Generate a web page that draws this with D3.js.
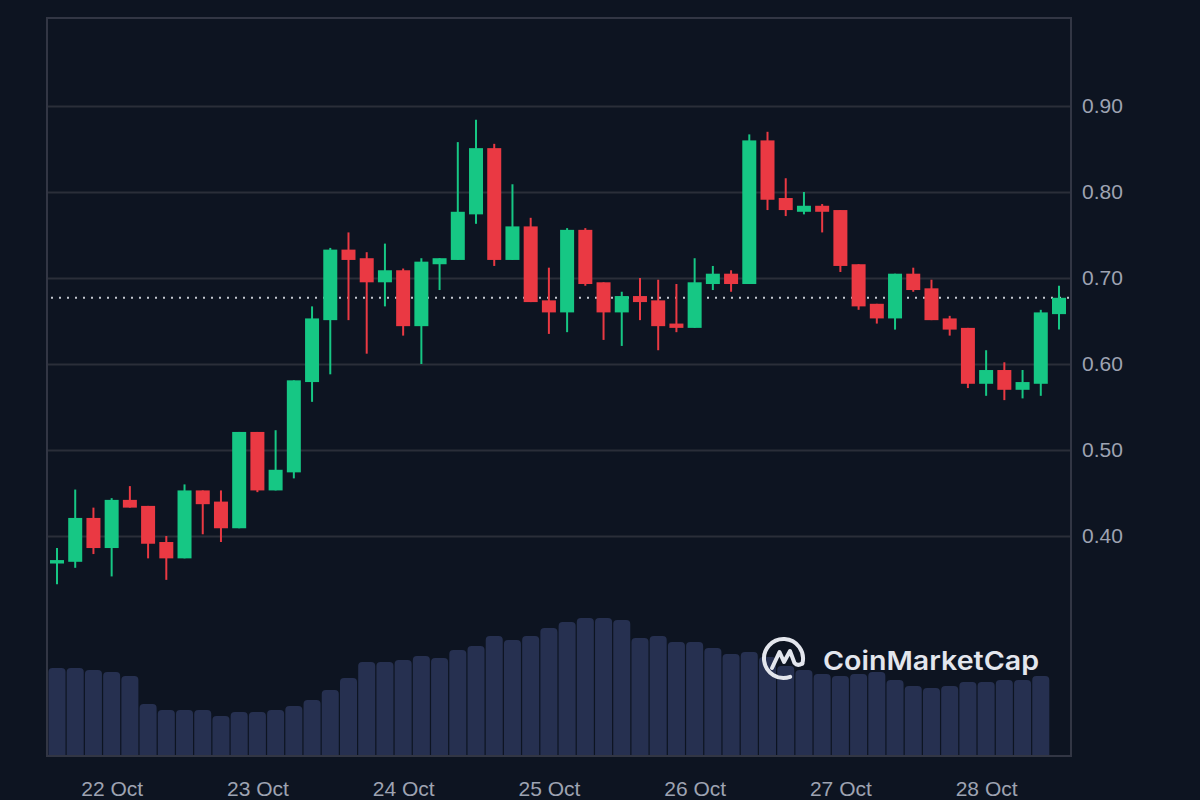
<!DOCTYPE html>
<html><head><meta charset="utf-8">
<script src="https://cdn.jsdelivr.net/npm/d3@7"></script>
<style>html,body{margin:0;padding:0;background:#0d1421;} svg{display:block}</style>
</head><body><svg id="c" width="1200" height="800"></svg>
<script>
// ---- data (3-hour candles, starting 21 Oct 15:00 UTC) ----
const startTime = "2023-10-21T15:00:00Z";
const stepHours = 3;
const opens  = [0.368,0.370,0.421,0.386,0.442,0.435,0.393,0.374,0.453,0.440,0.409,0.521,0.453,0.474,0.579,0.651,0.733,0.723,0.695,0.709,0.644,0.716,0.721,0.774,0.851,0.721,0.760,0.674,0.660,0.756,0.695,0.660,0.679,0.674,0.647,0.642,0.693,0.705,0.693,0.860,0.793,0.777,0.784,0.779,0.716,0.670,0.653,0.705,0.688,0.653,0.642,0.577,0.593,0.570,0.577,0.658];
const highs  = [0.386,0.454,0.433,0.444,0.458,0.435,0.400,0.460,0.453,0.453,0.521,0.521,0.523,0.581,0.667,0.735,0.753,0.730,0.740,0.711,0.723,0.723,0.858,0.884,0.856,0.809,0.770,0.712,0.758,0.758,0.695,0.684,0.700,0.698,0.693,0.723,0.714,0.709,0.867,0.870,0.816,0.800,0.786,0.779,0.716,0.670,0.705,0.712,0.698,0.656,0.642,0.616,0.602,0.593,0.663,0.691];
const lows   = [0.344,0.363,0.379,0.353,0.433,0.374,0.349,0.374,0.402,0.393,0.409,0.451,0.453,0.467,0.556,0.588,0.651,0.612,0.667,0.633,0.600,0.686,0.721,0.763,0.714,0.721,0.672,0.635,0.637,0.691,0.628,0.621,0.651,0.616,0.637,0.642,0.686,0.684,0.693,0.779,0.772,0.774,0.753,0.707,0.663,0.647,0.640,0.684,0.651,0.633,0.572,0.563,0.558,0.560,0.563,0.640];
const closes = [0.372,0.421,0.386,0.442,0.433,0.391,0.374,0.453,0.437,0.409,0.521,0.453,0.477,0.581,0.653,0.733,0.721,0.695,0.709,0.644,0.719,0.723,0.777,0.851,0.721,0.760,0.672,0.660,0.756,0.693,0.660,0.679,0.672,0.644,0.642,0.695,0.705,0.693,0.860,0.791,0.779,0.784,0.777,0.714,0.667,0.653,0.705,0.686,0.651,0.640,0.577,0.593,0.570,0.579,0.660,0.677];
const volumes = [8.8,8.8,8.6,8.4,8.0,5.2,4.6,4.6,4.6,4.0,4.4,4.4,4.6,5.0,5.6,6.6,7.8,9.4,9.4,9.6,10.0,9.8,10.6,11.0,12.0,11.6,12.0,12.8,13.4,13.8,13.8,13.6,11.8,12.0,11.4,11.4,10.8,10.2,10.4,9.9,9.0,8.6,8.2,8.0,8.2,8.4,7.6,7.0,6.8,7.0,7.4,7.4,7.6,7.6,8.0];
const priceTicks = [0.40,0.50,0.60,0.70,0.80,0.90];
const dateTicks = ["2023-10-22","2023-10-23","2023-10-24","2023-10-25","2023-10-26","2023-10-27","2023-10-28"];
const lastPrice = 0.677;

// ---- layout ----
const P = {left:47, right:1071, top:18, bottom:756};
const GREEN = "#16c784", RED = "#ea3943";
const svg = d3.select("#c");
svg.append("rect").attr("width",1200).attr("height",800).attr("fill","#0d1421");

const t0 = new Date(startTime);
const times = opens.map((_,i)=> new Date(t0.getTime() + i*stepHours*3600e3));
const x = d3.scaleUtc().domain([times[0], times[times.length-1]]).range([57, 1059]);
const y = d3.scaleLinear().domain([0.40, 0.90]).range([536, 106]);
const yv = d3.scaleLinear().domain([0, 14]).range([P.bottom, P.bottom-140]);
const step = x(times[1]) - x(times[0]);

// grid
svg.append("g").selectAll("line").data(priceTicks).join("line")
  .attr("x1",P.left).attr("x2",P.right)
  .attr("y1",d=>Math.round(y(d))+0.5).attr("y2",d=>Math.round(y(d))+0.5)
  .attr("stroke","#2a2e39").attr("stroke-width",2);

// volume bars
const vw = step - 1.2, r = 4;
svg.append("g").selectAll("path").data(volumes).join("path")
  .attr("fill","#263050")
  .attr("d",(v,i)=>{
    const cx = x(times[i]), x0 = cx - vw/2, x1 = cx + vw/2, yt = yv(v), yb = yv(0);
    return `M${x0},${yb}V${yt+r}Q${x0},${yt} ${x0+r},${yt}H${x1-r}Q${x1},${yt} ${x1},${yt+r}V${yb}Z`;
  });

// logo (watermark)
const logo = svg.append("g").attr("transform","translate(783.5,658.5)");
const deg = Math.PI/180;
const arcP = d3.path(); arcP.arc(0,0,19.5,70*deg,375*deg,false);
logo.append("path").attr("d",arcP.toString()).attr("fill","none").attr("stroke","#e3e6ed").attr("stroke-width",4).attr("stroke-linecap","round");
logo.append("path").attr("d","M-11.5,9.5 L-4,-6.5 L0.5,3.5 L6.5,-7.5 L11,4.5 Q14,8 18.8,5")
  .attr("fill","none").attr("stroke","#e3e6ed").attr("stroke-width",4).attr("stroke-linejoin","round").attr("stroke-linecap","round");
svg.append("text").attr("x",823).attr("y",670).attr("fill","#e3e6ed")
  .attr("font-family","Inter, 'Noto Sans', sans-serif").attr("font-weight",600).attr("font-size",26)
  .attr("textLength",216).attr("lengthAdjust","spacingAndGlyphs").text("CoinMarketCap");

// current price dotted line
svg.append("line").attr("x1",P.left+4).attr("x2",P.right)
  .attr("y1",y(lastPrice)).attr("y2",y(lastPrice))
  .attr("stroke","#c3c7d0").attr("stroke-width",2).attr("stroke-dasharray","2,6");

// candles
const cw = 14;
const cg = svg.append("g").selectAll("g").data(opens).join("g");
cg.append("line")
  .attr("x1",(d,i)=>x(times[i])).attr("x2",(d,i)=>x(times[i]))
  .attr("y1",(d,i)=>y(highs[i])).attr("y2",(d,i)=>y(lows[i]))
  .attr("stroke",(d,i)=>closes[i]>=opens[i]?GREEN:RED).attr("stroke-width",2);
cg.append("rect")
  .attr("x",(d,i)=>x(times[i])-cw/2).attr("width",cw)
  .attr("y",(d,i)=>y(Math.max(opens[i],closes[i])))
  .attr("height",(d,i)=>Math.max(2, Math.abs(y(opens[i])-y(closes[i]))))
  .attr("fill",(d,i)=>closes[i]>=opens[i]?GREEN:RED);

// border
svg.append("path").attr("d",`M${P.left},${P.top}H${P.right}V${P.bottom}H${P.left}Z`)
  .attr("fill","none").attr("stroke","#323644").attr("stroke-width",2);

// axes
const yAxis = svg.append("g").attr("transform",`translate(${P.right},0)`)
  .call(d3.axisRight(y).tickValues(priceTicks).tickFormat(d3.format(".2f")).tickSize(0).tickPadding(11));
yAxis.select(".domain").remove();
yAxis.selectAll("text").attr("fill","#9ea3b2").attr("font-size",21).attr("font-family","'Liberation Sans', Arial, sans-serif");

const xAxis = svg.append("g").attr("transform",`translate(0,${P.bottom})`)
  .call(d3.axisBottom(x).tickValues(dateTicks.map(d=>new Date(d+"T00:00:00Z")))
    .tickFormat(d3.utcFormat("%-d %b")).tickSize(0).tickPadding(0));
xAxis.select(".domain").remove();
xAxis.selectAll("text").attr("fill","#9ea3b2").attr("font-size",21)
  .attr("font-family","'Liberation Sans', Arial, sans-serif").attr("y",40).attr("dy",0);
</script>
</body></html>
